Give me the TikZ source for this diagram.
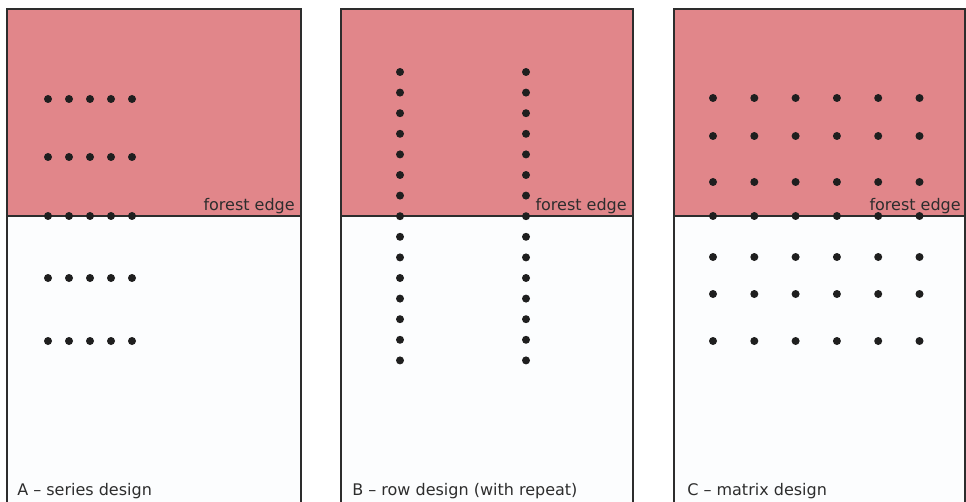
\documentclass[tikz,border=0pt]{standalone}
\usepackage{fontspec}
\setmainfont{DejaVu Sans}
\usepackage{tikz}
\definecolor{forestpink}{RGB}{225,134,138}
\definecolor{fieldwhite}{RGB}{252,253,254}
\definecolor{inkgrey}{RGB}{45,45,45}
\tikzset{
  panel/.style={line width=1.3pt, color=inkgrey},
  tree/.style={fill=black!88, draw=none},
  label/.style={font=\fontsize{12}{14}\selectfont, text=inkgrey, inner sep=0pt}
}

\begin{document}
\begin{tikzpicture}[x=0.75pt, y=-0.75pt]
			%%%%% START %%%%%
			\useasboundingbox (0, 0) rectangle (966, 502);
			
			% forest (top) and field (bottom) of each panel
			\fill[forestpink] (7, 9) rectangle (301, 216);
			\fill[fieldwhite] (7, 216) rectangle (301, 502);
			\fill[forestpink] (341, 9) rectangle (633, 216);
			\fill[fieldwhite] (341, 216) rectangle (633, 502);
			\fill[forestpink] (674, 9) rectangle (965, 216);
			\fill[fieldwhite] (674, 216) rectangle (965, 502);
			
			% panel borders and forest edges
			\draw[panel] (7, 503) -- (7, 9) -- (301, 9) -- (301, 503);
			\draw[panel] (7, 216) -- (301, 216);
			\draw[panel] (341, 503) -- (341, 9) -- (633, 9) -- (633, 503);
			\draw[panel] (341, 216) -- (633, 216);
			\draw[panel] (674, 503) -- (674, 9) -- (965, 9) -- (965, 503);
			\draw[panel] (674, 216) -- (965, 216);
			
			% A - series design
			\foreach \y in {99, 157, 216, 278, 341}
				\foreach \x in {48, 69, 90, 111, 132}
					\fill[tree] (\x, \y) circle (4);
			
			% B - row design
			\foreach \i in {0,...,14} {
				\fill[tree] (400, 72 + 20.6*\i) circle (4);
				\fill[tree] (526, 72 + 20.6*\i) circle (4);
			}
			
			% C - matrix design
			\foreach \y in {98, 136, 182, 216, 257, 294, 341}
				\foreach \i in {0,...,5}
					\fill[tree] (713 + 41.3*\i, \y) circle (4);
			
			\node[label, anchor=base east] (edgeA) at (295, 210) {forest edge};
			\node[label, anchor=base east] (edgeB) at (627, 210) {forest edge};
			\node[label, anchor=base east] (edgeC) at (961, 210) {forest edge};
			
			\node[label, anchor=base west] (titleA) at (17, 495) {A – series design};
			\node[label, anchor=base west] (titleB) at (352, 495) {B – row design (with repeat)};
			\node[label, anchor=base west] (titleC) at (687, 495) {C – matrix design};
			
			%%%%% END %%%%%
		\end{tikzpicture}
\end{document}
